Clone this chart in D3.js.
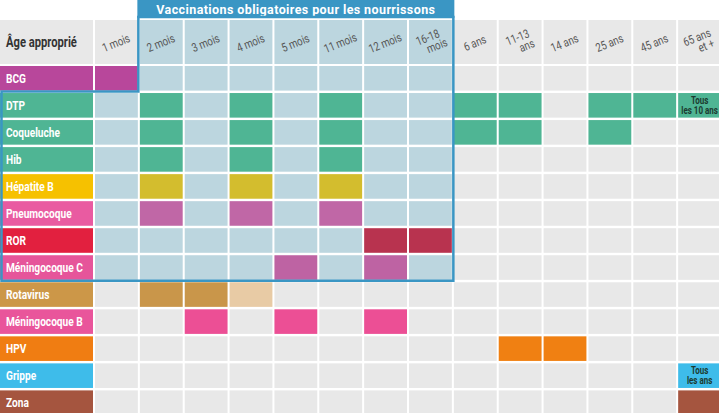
<!DOCTYPE html><html><head><meta charset="utf-8"><script src="https://cdn.jsdelivr.net/npm/d3@7"></script>
<style>body{margin:0;background:#fff}text{font-family:"Liberation Sans Narrow","Roboto",sans-serif;font-weight:bold}</style></head><body><svg id="c" width="719" height="413"></svg><script>
const ages=["1 mois","2 mois","3 mois","4 mois","5 mois","11 mois","12 mois","16-18 mois","6 ans","11-13 ans","14 ans","25 ans","45 ans","65 ans et +"];
const ageLines=[["1 mois"],["2 mois"],["3 mois"],["4 mois"],["5 mois"],["11 mois"],["12 mois"],["16-18","mois"],["6 ans"],["11-13","ans"],["14 ans"],["25 ans"],["45 ans"],["65 ans","et +"]];
const vaccines=["BCG","DTP","Coqueluche","Hib","Hépatite B","Pneumocoque","ROR","Méningocoque C","Rotavirus","Méningocoque B","HPV","Grippe","Zona"];
const labelColors=["#b8479b","#4fb594","#4fb594","#4fb594","#f6c100","#e95ba1","#e2203f","#e6559a","#cc9748","#e9559b","#f07d12","#3ebcea","#a5553f"];
const cellColors=["#b8479b","#4fb594","#4fb594","#4fb594","#d3bd2e","#c067a6","#b8334f","#be63a3","#c9964a","#ec4f95","#f08012","#3ebcea","#a5553f"];
const doses=[[0],[1,3,5,8,9,11,12,13],[1,3,5,8,9,11],[1,3,5],[1,3,5],[1,3,5],[6,7],[4,6],[1,2,3],[2,4,6],[9,10],[13],[13]];
const lightDoses={"8-3":"#e8cba5"};
const notes={"1-13":["Tous","les 10 ans"],"11-13":["Tous","les ans"]};
const svg=d3.select("#c");
const x=d3.scaleBand().domain(ages).range([95,721]).paddingInner(0.045).paddingOuter(0);
const y=d3.scaleBand().domain(vaccines).range([66,415]).paddingInner(0.09).paddingOuter(0);
const hy=20,hh=44;
const inBox=(r,c)=>(c<=7&&(r>=1&&r<=7))||(r===0&&c>=1&&c<=7);
svg.append("rect").attr("x",0).attr("y",hy).attr("width",93).attr("height",hh).attr("fill","#e8e8e8");
svg.append("text").attr("transform",`translate(6,${hy+27}) scale(0.8,1)`).attr("font-size",14).attr("fill","#333").text("Âge approprié");
ages.forEach((a,c)=>{
  svg.append("rect").attr("x",x(a)).attr("y",hy).attr("width",x.bandwidth()).attr("height",hh).attr("fill",(c>=1&&c<=7)?"#bcd6df":"#e8e8e8");
  const parts=ageLines[c];
  const t=svg.append("text").attr("transform",`translate(${x(a)+x.bandwidth()/2},${hy+24}) rotate(-22) scale(0.8,1)`).attr("text-anchor","middle").attr("font-size",12).attr("fill","#555").style("font-weight","normal");
  parts.forEach((p,i)=>t.append("tspan").attr("x",parts.length>1?(i?7:0):0).attr("dy",i?11:(parts.length>1?-3:3)).text(p));
});
vaccines.forEach((v,r)=>{
  svg.append("rect").attr("x",0).attr("y",y(v)).attr("width",93).attr("height",y.bandwidth()).attr("fill",labelColors[r]);
  svg.append("text").attr("transform",`translate(6,${y(v)+y.bandwidth()/2+4.5}) scale(0.78,1)`).attr("font-size",13).attr("fill","#fff").text(v);
  ages.forEach((a,c)=>{
    const k=r+"-"+c;
    let f=inBox(r,c)?"#bcd6df":"#e8e8e8";
    if(doses[r].includes(c)) f=lightDoses[k]||cellColors[r];
    svg.append("rect").attr("x",x(a)).attr("y",y(v)).attr("width",x.bandwidth()).attr("height",y.bandwidth()).attr("fill",f);
    if(notes[k]){
      const t=svg.append("text").attr("transform",`translate(${x(a)+x.bandwidth()/2},${y(v)+11}) scale(0.8,1)`).attr("text-anchor","middle").attr("font-size",10).attr("fill","#1c3a30");
      notes[k].forEach((s,i)=>t.append("tspan").attr("x",0).attr("y",i*10).text(s));
    }
  });
});
const bx0=x(ages[1])-1.5, bx1=x(ages[7])+x.bandwidth()+1.5, by1=y(vaccines[0])+y.bandwidth()+1, by2=y(vaccines[7])+y.bandwidth()+1;
svg.append("rect").attr("x",bx0-1).attr("y",0).attr("width",bx1-bx0+2).attr("height",18).attr("fill","#3a96c4");
svg.append("text").attr("x",(bx0+bx1)/2).attr("y",13.5).attr("text-anchor","middle").attr("font-size",12.5).attr("fill","#fff").attr("letter-spacing",0.4).text("Vaccinations obligatoires pour les nourrissons");
svg.append("path").attr("d",`M${bx0},17 L${bx1},17 L${bx1},${by2} L1.5,${by2} L1.5,${by1} L${bx0},${by1} Z`).attr("fill","none").attr("stroke","#3a96c4").attr("stroke-width",2.5);
</script></body></html>
